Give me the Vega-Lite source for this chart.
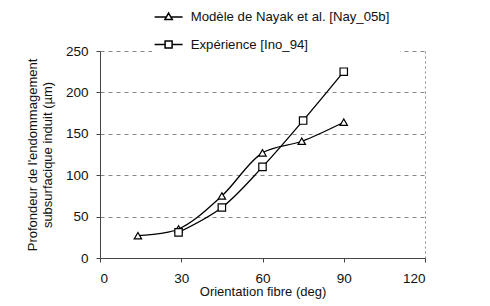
{
  "$schema": "https://vega.github.io/schema/vega-lite/v6.json",
  "width": 325,
  "height": 207,
  "autosize": {"type": "none"},
  "padding": {"left": 100, "top": 51, "right": 65, "bottom": 48},
  "background": "white",
  "config": {
    "font": "Liberation Sans",
    "view": {"stroke": null},
    "axis": {
      "labelFont": "Liberation Sans",
      "titleFont": "Liberation Sans",
      "labelFontSize": 13.5,
      "titleFontSize": 13,
      "labelColor": "#111",
      "titleColor": "#111",
      "titleFontWeight": "normal",
      "domainColor": "#444",
      "tickColor": "#444",
      "tickSize": 4,
      "zindex": 0
    }
  },
  "data": {
    "values": [
      {"series": "Modèle de Nayak et al. [Nay_05b]", "x": 14, "y": 27},
      {"series": "Modèle de Nayak et al. [Nay_05b]", "x": 29, "y": 35},
      {"series": "Modèle de Nayak et al. [Nay_05b]", "x": 45, "y": 75},
      {"series": "Modèle de Nayak et al. [Nay_05b]", "x": 60, "y": 127},
      {"series": "Modèle de Nayak et al. [Nay_05b]", "x": 74.5, "y": 141},
      {"series": "Modèle de Nayak et al. [Nay_05b]", "x": 90, "y": 164},
      {"series": "Expérience [Ino_94]", "x": 29, "y": 31},
      {"series": "Expérience [Ino_94]", "x": 45, "y": 61},
      {"series": "Expérience [Ino_94]", "x": 60, "y": 110},
      {"series": "Expérience [Ino_94]", "x": 75, "y": 166},
      {"series": "Expérience [Ino_94]", "x": 90, "y": 225}
    ]
  },
  "encoding": {
    "x": {
      "field": "x",
      "type": "quantitative",
      "scale": {"domain": [0, 120], "nice": false},
      "axis": {
        "values": [0, 30, 60, 90, 120],
        "title": "Orientation fibre (deg)",
        "titlePadding": 1,
        "grid": true,
        "gridColor": "#888",
        "gridDash": [2, 3],
        "gridOpacity": {"condition": {"test": "datum.value == 120", "value": 1}, "value": 0},
        "labelPadding": 9
      }
    },
    "y": {
      "field": "y",
      "type": "quantitative",
      "scale": {"domain": [0, 250], "nice": false},
      "axis": {
        "values": [0, 50, 100, 150, 200, 250],
        "title": ["Profondeur de l'endommagement", "subsurfacique induit  (µm)"],
        "titlePadding": 11,
        "labelPadding": 8,
        "grid": true,
        "gridColor": "#888",
        "gridDash": [4, 4]
      }
    }
  },
  "resolve": {"scale": {"shape": "independent"}},
  "layer": [
    {
      "mark": {"type": "line", "interpolate": "catmull-rom", "color": "black", "strokeWidth": 1.3},
      "encoding": {"detail": {"field": "series"}}
    },
    {
      "mark": {"type": "point", "filled": true, "fill": "white", "stroke": "black", "strokeWidth": 1.2, "size": 55, "opacity": 1},
      "encoding": {
        "shape": {
          "field": "series",
          "type": "nominal",
          "sort": null,
          "scale": {
            "domain": ["Modèle de Nayak et al. [Nay_05b]", "Expérience [Ino_94]"],
            "range": ["triangle-up", "square"]
          },
          "legend": null
        }
      }
    },
    {
      "mark": {"type": "point", "filled": true, "fill": "white", "stroke": "black", "strokeWidth": 1.2, "size": 49, "opacity": 0},
      "encoding": {
        "shape": {
          "field": "series",
          "type": "nominal",
          "sort": null,
          "scale": {
            "domain": ["Modèle de Nayak et al. [Nay_05b]", "Expérience [Ino_94]"],
            "range": ["M-4,0.1H-0.55M0.55,0.1H4M0,-1L1.05,0.8H-1.05Z", "M-4,0H-1M1,0H4M-1,-1H1V1H-1Z"]
          },
          "legend": {
            "title": null,
            "orient": "none",
            "legendX": 52,
            "legendY": -51,
            "padding": 10,
            "zindex": 3,
            "fillColor": "white",
            "symbolSize": 49,
            "labelOffset": 15.5,
            "labelFontSize": 13.2,
            "labelFont": "Liberation Sans",
            "labelColor": "#111",
            "labelLimit": 400,
            "rowPadding": 14,
            "encode": {
              "legend": {"update": {"fill": {"value": "white"}, "fillOpacity": {"value": 1}}},
              "symbols": {
                "update": {
                  "fill": {"value": "white"},
                  "stroke": {"value": "black"},
                  "strokeWidth": {"value": 1.2},
                  "opacity": {"value": 1},
                  "size": {"value": 49}
                }
              }
            }
          }
        }
      }
    }
  ]
}
